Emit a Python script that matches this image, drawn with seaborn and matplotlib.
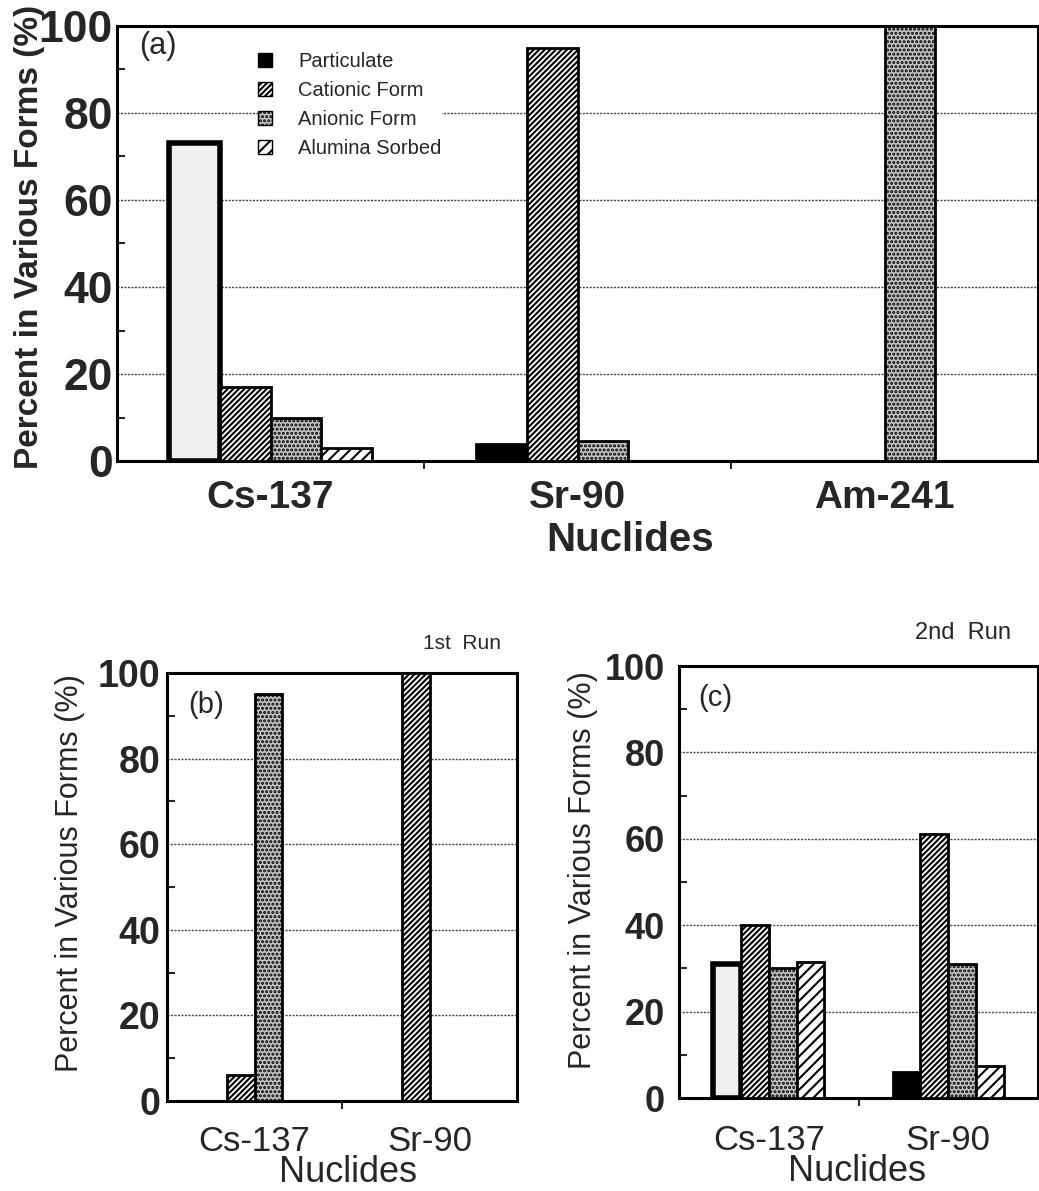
import numpy as np
import pandas as pd
import matplotlib
matplotlib.use("Agg")
import matplotlib.pyplot as plt
import seaborn as sns
from matplotlib.patches import Patch
from matplotlib.ticker import MultipleLocator, FixedLocator

# ---------------- data ----------------
forms = ["Particulate", "Cationic Form", "Anionic Form", "Alumina Sorbed"]

nuclides_a = ["Cs-137", "Sr-90", "Am-241"]
particulate_a = [73, 4, 0]
cationic_a = [17, 95, 0]
anionic_a = [10, 4.5, 100]
alumina_a = [3, 0, 0]

nuclides_b = ["Cs-137", "Sr-90"]
particulate_b = [0, 0]
cationic_b = [6, 100]
anionic_b = [95, 0]
alumina_b = [0, 0]

nuclides_c = ["Cs-137", "Sr-90"]
particulate_c = [31, 6]
cationic_c = [40, 61]
anionic_c = [30, 31]
alumina_c = [31.5, 7.5]

y_ticks = [0, 20, 40, 60, 80, 100]
y_label = "Percent in Various Forms (%)"
x_label = "Nuclides"


def make_df(nuclides, part, cat, an, alu):
    rows = []
    for form, vals in zip(forms, [part, cat, an, alu]):
        for n, v in zip(nuclides, vals):
            rows.append({"nuclide": n, "form": form, "percent": v})
    return pd.DataFrame(rows)


sns.set_style("white")
plt.rcParams["font.family"] = ["Liberation Sans", "DejaVu Sans"]
plt.rcParams["hatch.linewidth"] = 1.5

fig = plt.figure(figsize=(10.39, 11.91), dpi=100)
W, H = 1039, 1191


def axes_px(left, right, top, bottom):
    return fig.add_axes([left / W, 1 - bottom / H, (right - left) / W, (bottom - top) / H])


ax_a = axes_px(117, 1038, 26, 461)
ax_b = axes_px(167, 517, 673, 1101)
ax_c = axes_px(679, 1038, 666, 1098)

ANION_FACE = "#c6c6c6"
STYLE = {
    "Cationic Form": dict(facecolor="white", hatch="//////"),
    "Anionic Form": dict(facecolor=ANION_FACE, hatch="...."),
    "Alumina Sorbed": dict(facecolor="white", hatch="///"),
}


def draw_panel(ax, df, nuclides, width, ytick_size, ytick_pad, xtick_size,
               xtick_weight, xtick_pad, ylab_size, ylab_weight, ylab_xy, xlab_size,
               xlab_weight, xlab_xy, tag, tag_xy, tag_size):
    sns.barplot(data=df, x="nuclide", y="percent", hue="form", order=nuclides,
                hue_order=forms, width=width, errorbar=None, legend=False,
                palette=["black", "white", ANION_FACE, "white"], ax=ax,
                zorder=3)
    for form, cont in zip(forms, ax.containers):
        for bar in cont:
            bar.set_edgecolor("black")
            bar.set_linewidth(2.0)
            if form == "Particulate":
                if bar.get_height() > 15:
                    bar.set_facecolor("#f0f0f0")
                    bar.set_linewidth(4.0)
                else:
                    bar.set_facecolor("black")
            else:
                bar.set_facecolor(STYLE[form]["facecolor"])
                bar.set_hatch(STYLE[form]["hatch"])
    ax.set_ylim(0, 100)
    ax.set_yticks(y_ticks)
    ax.yaxis.set_minor_locator(MultipleLocator(10))
    ax.xaxis.set_minor_locator(FixedLocator([i + 0.5 for i in range(len(nuclides) - 1)]))
    ax.tick_params(axis="y", which="major", length=0, labelsize=ytick_size, pad=ytick_pad)
    ax.tick_params(axis="y", which="minor", direction="in", length=6, width=1.5, left=True)
    ax.tick_params(axis="x", which="major", length=0, labelsize=xtick_size, pad=xtick_pad)
    ax.tick_params(axis="x", which="minor", direction="out", length=6, width=1.5, bottom=True)
    for lab in ax.get_yticklabels():
        lab.set_fontweight("bold")
    for lab in ax.get_xticklabels():
        lab.set_fontweight(xtick_weight)
    ax.yaxis.grid(True, which="major", color="#444444", linestyle=(0, (1.5, 1.0)), linewidth=1.0)
    ax.xaxis.grid(False)
    ax.set_axisbelow(True)
    for sp in ax.spines.values():
        sp.set_visible(True)
        sp.set_color("black")
        sp.set_linewidth(2.2)
    ax.set_ylabel(y_label, fontsize=ylab_size, fontweight=ylab_weight)
    ax.yaxis.label.set_va("center")
    ax.yaxis.set_label_coords(*ylab_xy)
    ax.set_xlabel(x_label, fontsize=xlab_size, fontweight=xlab_weight)
    ax.xaxis.label.set_va("center")
    ax.xaxis.set_label_coords(*xlab_xy)
    ax.text(tag_xy[0], tag_xy[1], tag, transform=ax.transAxes, fontsize=tag_size,
            ha="left", va="center")


draw_panel(ax_a, make_df(nuclides_a, particulate_a, cationic_a, anionic_a, alumina_a),
           nuclides_a, 0.66, 32, 3, 28, "bold", 14, 24, "bold", (-0.0945, 0.515),
           29, "bold", (0.557, -0.182), "(a)", (0.024, 0.953), 22)
draw_panel(ax_b, make_df(nuclides_b, particulate_b, cationic_b, anionic_b, alumina_b),
           nuclides_b, 0.62, 27, 5, 25, "normal", 17, 22, "normal", (-0.277, 0.533),
           26, "normal", (0.517, -0.166), "(b)", (0.06, 0.925), 21)
draw_panel(ax_c, make_df(nuclides_c, particulate_c, cationic_c, anionic_c, alumina_c),
           nuclides_c, 0.62, 26, 10, 25, "normal", 19, 22, "normal", (-0.267, 0.528),
           26, "normal", (0.496, -0.171), "(c)", (0.053, 0.926), 21)

ax_b.text(0.843, 1.07, "1st  Run", transform=ax_b.transAxes, fontsize=15,
          ha="center", va="center")
ax_c.text(0.79, 1.076, "2nd  Run", transform=ax_c.transAxes, fontsize=17,
          ha="center", va="center")

handles = [
    Patch(facecolor="black", edgecolor="black", label=forms[0]),
    Patch(facecolor="white", edgecolor="black", hatch="//////", label=forms[1]),
    Patch(facecolor=ANION_FACE, edgecolor="black", hatch="....", label=forms[2]),
    Patch(facecolor="white", edgecolor="black", hatch="///", label=forms[3]),
]
leg = ax_a.legend(handles=handles, loc="upper left", bbox_to_anchor=(0.153, 0.94),
                  fontsize=14.5, handlelength=0.7, handleheight=0.7,
                  handletextpad=1.3, labelspacing=0.5, borderpad=0.0,
                  borderaxespad=0.0, frameon=True, facecolor="white",
                  edgecolor="none", framealpha=1.0)
leg.set_zorder(5)

fig.savefig("out.png", dpi=100)
